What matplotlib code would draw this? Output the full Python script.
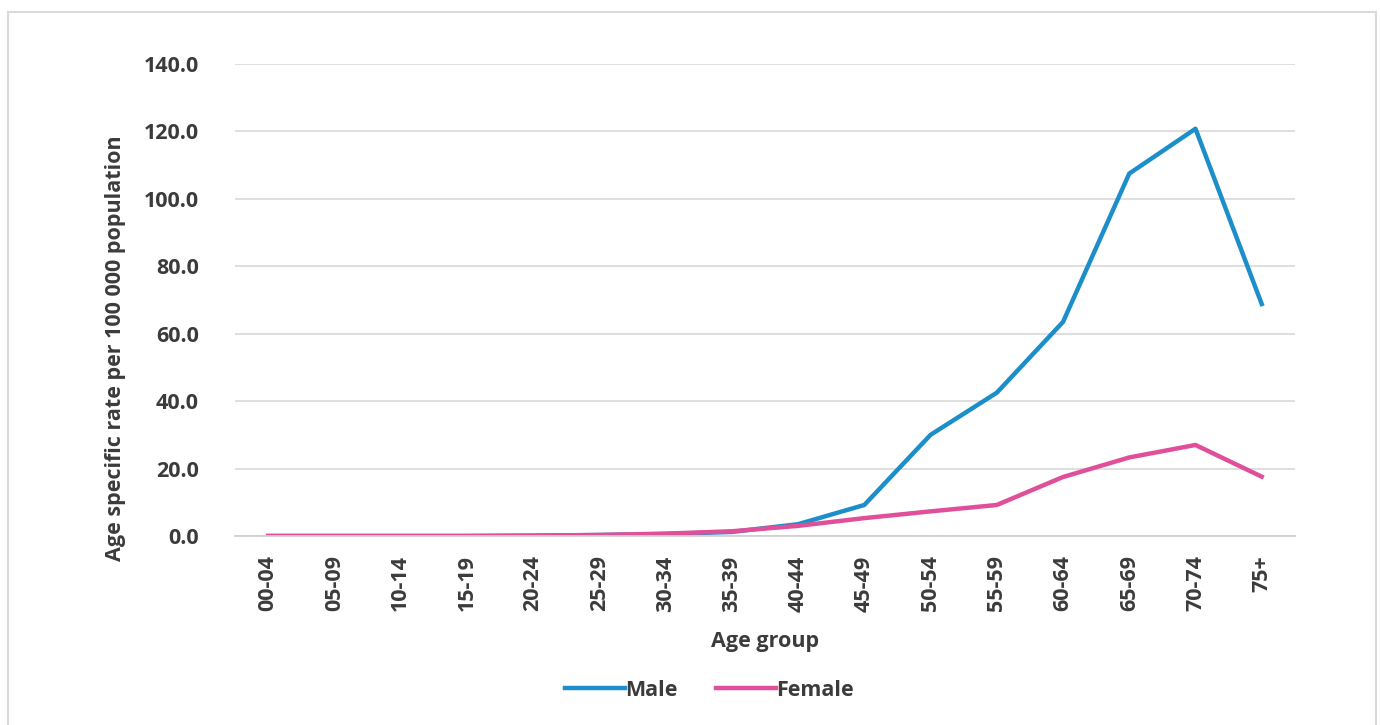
import matplotlib.pyplot as plt
from matplotlib.patches import Rectangle

age_groups = ["00-04", "05-09", "10-14", "15-19", "20-24", "25-29", "30-34", "35-39",
              "40-44", "45-49", "50-54", "55-59", "60-64", "65-69", "70-74", "75+"]
male = [0.0, 0.0, 0.0, 0.0, 0.1, 0.3, 0.6, 1.2, 3.5, 9.2, 30.0, 42.5, 63.5, 107.5, 120.8, 68.8]
female = [0.0, 0.0, 0.0, 0.0, 0.1, 0.3, 0.7, 1.4, 3.0, 5.3, 7.3, 9.2, 17.5, 23.3, 27.0, 17.6]
y_ticks = [0, 20, 40, 60, 80, 100, 120, 140]

plt.rcParams['font.family'] = ['Open Sans', 'DejaVu Sans']
plt.rcParams['font.weight'] = 'bold'
plt.rcParams['axes.labelweight'] = 'bold'
txt = '#3b3b3b'
fs = 15.5

fig = plt.figure(figsize=(13.8, 7.25), dpi=100)
ax = fig.add_axes([0.1703, 0.2607, 0.768, 0.651])

# outer chart border
fig.patches.append(Rectangle((0.006, -0.05), 0.991, 1.034, transform=fig.transFigure,
                             fill=False, edgecolor='#d9d9d9', linewidth=1.5))

x = range(len(age_groups))
ax.plot(x, male, color='#1c8ec9', linewidth=3.2, label='Male', solid_joinstyle='round')
ax.plot(x, female, color='#e0509a', linewidth=3.2, label='Female', solid_joinstyle='round')

ax.set_xlim(-0.5, len(age_groups) - 0.5)
ax.set_ylim(0, 140)
ax.set_yticks(y_ticks)
ax.set_yticklabels([f"{v:.1f}" for v in y_ticks])
ax.set_xticks(list(x))
ax.set_xticklabels(age_groups, rotation=90)
ax.yaxis.grid(True, color='#dcdcdc', linewidth=1.3)
ax.set_axisbelow(True)
for s in ['top', 'right', 'left']:
    ax.spines[s].set_visible(False)
ax.spines['bottom'].set_color('#d0d0d0')
ax.spines['bottom'].set_linewidth(1.3)
ax.tick_params(axis='both', length=0, labelsize=fs, colors=txt, labelcolor=txt)
ax.tick_params(axis='y', pad=26)
ax.tick_params(axis='x', pad=14)

ax.set_xlabel("Age group", fontsize=fs, color=txt, labelpad=14)
ax.set_ylabel("Age specific rate per 100 000 population", fontsize=fs, color=txt)
ax.yaxis.set_label_coords(-0.103, 0.398)

fig.legend(loc='center', bbox_to_anchor=(0.514, 0.048), ncol=2, frameon=False,
           fontsize=fs, handlelength=2.8, columnspacing=1.8, handletextpad=0.0,
           labelcolor=txt)

fig.savefig("out.png", dpi=100)
